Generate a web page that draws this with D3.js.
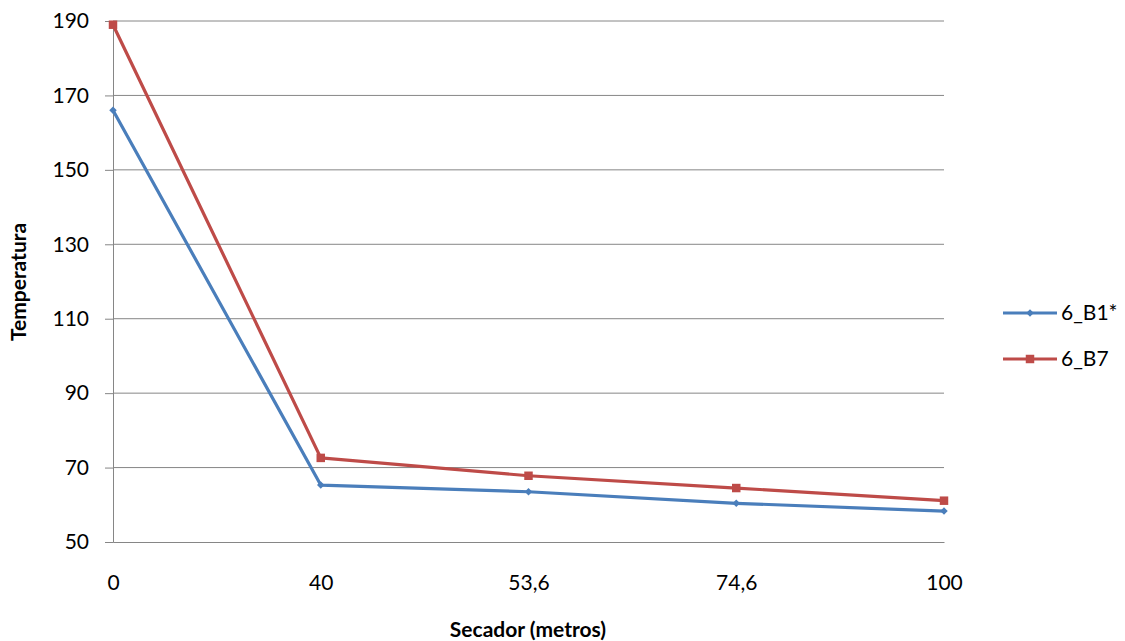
<!DOCTYPE html>
<html>
<head>
<meta charset="utf-8">
<script src="https://cdn.jsdelivr.net/npm/d3@7"></script>
<style>
  html, body { margin: 0; padding: 0; background: #fff; }
  svg text { font-family: Lato, "Open Sans", sans-serif; fill: #000; }
</style>
</head>
<body>
<svg id="chart" width="1125" height="641"></svg>
<script>
// Distance along the dryer (categories) and temperature readings per series
const categories = ["0", "40", "53,6", "74,6", "100"];
const serieB1 = [166, 65.3, 63.5, 60.4, 58.3];
const serieB7 = [189, 72.6, 67.8, 64.5, 61.1];
const seriesNames = ["6_B1*", "6_B7"];
const yTicks = [50, 70, 90, 110, 130, 150, 170, 190];

const colors = ["#4A7EBB", "#BE4B48"];
const svg = d3.select("#chart");

const plotLeft = 113, plotRight = 944, plotTop = 21, plotBottom = 542;
const fontSize = 21;

const x = d3.scalePoint().domain(categories).range([plotLeft, plotRight]).padding(0);
const y = d3.scaleLinear().domain([50, 190]).range([plotBottom, plotTop]);

// Horizontal gridlines
svg.append("g")
  .selectAll("line")
  .data(yTicks.slice(1))
  .join("line")
  .attr("x1", plotLeft).attr("x2", plotRight)
  .attr("y1", d => y(d)).attr("y2", d => y(d))
  .attr("stroke", "#868686").attr("stroke-width", 1);

// Y axis
const yAxis = svg.append("g")
  .attr("transform", `translate(${plotLeft},0)`)
  .call(d3.axisLeft(y).tickValues(yTicks).tickSize(8).tickPadding(16).tickFormat(d3.format("d")));
yAxis.select(".domain").attr("stroke", "#868686");
yAxis.selectAll(".tick line").attr("stroke", "#868686");
yAxis.selectAll("text").attr("font-size", fontSize).style("font-family", "Lato, sans-serif");

// X axis
const xAxis = svg.append("g")
  .attr("transform", `translate(0,${plotBottom})`)
  .call(d3.axisBottom(x).tickSize(0).tickPadding(33));
xAxis.select(".domain").attr("stroke", "#868686");
xAxis.selectAll("text").attr("font-size", fontSize).style("font-family", "Lato, sans-serif");

// Axis titles
svg.append("text")
  .attr("transform", "translate(26,282) rotate(-90)")
  .attr("text-anchor", "middle")
  .attr("font-size", fontSize).attr("font-weight", "bold")
  .text("Temperatura");

svg.append("text")
  .attr("x", 528).attr("y", 637)
  .attr("text-anchor", "middle")
  .attr("font-size", fontSize).attr("font-weight", "bold")
  .text("Secador (metros)");

// Series lines and markers
const data = [serieB1, serieB7];
const line = d3.line().x((d, i) => x(categories[i])).y(d => y(d));

data.forEach((vals, s) => {
  svg.append("path")
    .datum(vals)
    .attr("d", line)
    .attr("fill", "none")
    .attr("stroke", colors[s])
    .attr("stroke-width", 3.2)
    .attr("stroke-linejoin", "round");
});

const diamond = d3.symbol().type(d3.symbolDiamond2 || d3.symbolDiamond).size(36);
const square = d3.symbol().type(d3.symbolSquare).size(72);

svg.append("g").selectAll("path")
  .data(serieB1)
  .join("path")
  .attr("transform", (d, i) => `translate(${x(categories[i])},${y(d)})`)
  .attr("d", diamond)
  .attr("fill", colors[0]);

svg.append("g").selectAll("path")
  .data(serieB7)
  .join("path")
  .attr("transform", (d, i) => `translate(${x(categories[i])},${y(d)})`)
  .attr("d", square)
  .attr("fill", colors[1]);

// Legend
const legend = svg.append("g");
seriesNames.forEach((name, i) => {
  const ly = 313 + i * 46;
  legend.append("line")
    .attr("x1", 1003).attr("x2", 1057)
    .attr("y1", ly).attr("y2", ly)
    .attr("stroke", colors[i]).attr("stroke-width", 3.2);
  legend.append("path")
    .attr("transform", `translate(1030,${ly})`)
    .attr("d", i === 0 ? diamond : square)
    .attr("fill", colors[i]);
  legend.append("text")
    .attr("x", 1061).attr("y", ly + 7)
    .attr("font-size", fontSize)
    .text(name);
});
</script>
</body>
</html>
